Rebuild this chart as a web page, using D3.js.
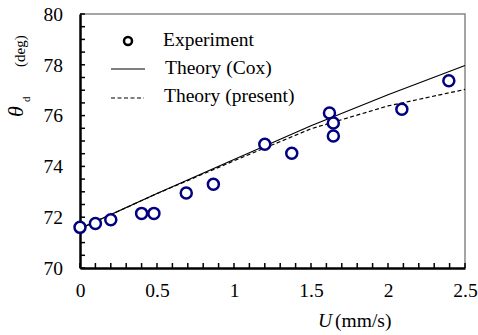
<!DOCTYPE html>
<html>
<head>
<meta charset="utf-8">
<script src="https://cdn.jsdelivr.net/npm/d3@7"></script>
<style>
  body { margin: 0; background: #fff; }
</style>
</head>
<body>
<script>
// Data
const expU = [0, 0.1, 0.2, 0.4, 0.48, 0.69, 0.866, 1.2, 1.375, 1.62, 1.645, 1.645, 2.09, 2.395];
const expTheta = [71.6, 71.75, 71.9, 72.15, 72.15, 72.95, 73.3, 74.87, 74.52, 76.1, 75.71, 75.2, 76.25, 77.37];
const modelU = [0, 0.5, 1, 1.5, 2, 2.5];
const coxTheta = [71.55, 72.93, 74.27, 75.6, 76.82, 77.97];
const presentTheta = [71.55, 72.93, 74.22, 75.48, 76.38, 77.03];
const xTicks = [0, 0.5, 1, 1.5, 2, 2.5];
const yTicks = [70, 72, 74, 76, 78, 80];
const legendLabels = ["Experiment", "Theory (Cox)", "Theory (present)"];

const serif = "'Liberation Serif', 'Times New Roman', serif";
const fs = "19.5px";

// Dimensions
const W = 478, H = 335;
const margin = { top: 14, right: 13, bottom: 67, left: 80 };
const width = W - margin.left - margin.right;
const height = H - margin.top - margin.bottom;

const svg = d3.select("body")
    .append("svg")
    .attr("width", W)
    .attr("height", H)
    .style("font-family", serif);

const g = svg.append("g")
    .attr("transform", `translate(${margin.left},${margin.top})`);

const x = d3.scaleLinear().domain([0, 2.5]).range([0, width]);
const y = d3.scaleLinear().domain([70, 80]).range([height, 0]);

// frame (top + right, grey)
g.append("path")
    .attr("d", `M0,0H${width}V${height}`)
    .attr("fill", "none")
    .attr("stroke", "#888")
    .attr("stroke-width", 1.5);

// minor ticks
const xMinor = d3.range(0, 2.5001, 0.1);
const yMinor = d3.range(70, 80.001, 0.5);

g.append("g").selectAll("line").data(xMinor).enter().append("line")
    .attr("x1", d => x(d)).attr("x2", d => x(d))
    .attr("y1", height).attr("y2", height - 5)
    .attr("stroke", "#000").attr("stroke-width", 1.5);

g.append("g").selectAll("line").data(yMinor).enter().append("line")
    .attr("x1", 0).attr("x2", 5)
    .attr("y1", d => y(d)).attr("y2", d => y(d))
    .attr("stroke", "#000").attr("stroke-width", 1.5);

// axes
const xAxis = g.append("g")
    .attr("transform", `translate(0,${height})`)
    .call(d3.axisBottom(x).tickValues(xTicks).tickSize(0).tickPadding(15)
        .tickFormat(d3.format("")));
xAxis.attr("font-family", null).attr("font-size", null);
xAxis.select(".domain").attr("stroke", "#000").attr("stroke-width", 2.5);
xAxis.selectAll("text").style("font-size", fs).style("font-family", serif);

const yAxis = g.append("g")
    .call(d3.axisLeft(y).tickValues(yTicks).tickSize(0).tickPadding(17));
yAxis.attr("font-family", null).attr("font-size", null);
yAxis.select(".domain").attr("stroke", "#000").attr("stroke-width", 2.5);
yAxis.selectAll("text").style("font-size", fs).style("font-family", serif);

// theory lines
const line = d3.line()
    .x(d => x(d[0]))
    .y(d => y(d[1]));

g.append("path")
    .datum(modelU.map((u, i) => [u, coxTheta[i]]))
    .attr("fill", "none")
    .attr("stroke", "#000")
    .attr("stroke-width", 1.2)
    .attr("d", line);

g.append("path")
    .datum(modelU.map((u, i) => [u, presentTheta[i]]))
    .attr("fill", "none")
    .attr("stroke", "#000")
    .attr("stroke-width", 1.2)
    .attr("stroke-dasharray", "4,2.5")
    .attr("d", line);

// experiment points
g.append("g").selectAll("circle")
    .data(expU.map((u, i) => [u, expTheta[i]]))
    .enter().append("circle")
    .attr("cx", d => x(d[0]))
    .attr("cy", d => y(d[1]))
    .attr("r", 5.5)
    .attr("fill", "#fff")
    .attr("stroke", "#000080")
    .attr("stroke-width", 2.5);

// legend
const legend = svg.append("g");
legend.append("circle")
    .attr("cx", 128).attr("cy", 41).attr("r", 4)
    .attr("fill", "#fff").attr("stroke", "#000").attr("stroke-width", 2.5);
legend.append("line")
    .attr("x1", 111).attr("x2", 145).attr("y1", 69).attr("y2", 69)
    .attr("stroke", "#000").attr("stroke-width", 1.2);
legend.append("line")
    .attr("x1", 111).attr("x2", 144).attr("y1", 98).attr("y2", 98)
    .attr("stroke", "#000").attr("stroke-width", 1.2)
    .attr("stroke-dasharray", "4,2.5");
legend.selectAll("text").data(legendLabels).enter().append("text")
    .attr("x", (d, i) => [163, 165, 164][i])
    .attr("y", (d, i) => [46, 74, 102][i])
    .style("font-size", fs)
    .style("font-family", serif)
    .text(d => d);

// axis titles
const yl = svg.append("text")
    .attr("transform", "translate(23,117) rotate(-90)")
    .style("font-size", "15px")
    .style("font-family", serif);
yl.append("tspan").attr("x", 0).attr("font-style", "italic").style("font-size", "22px").text("θ");
yl.append("tspan").attr("x", 15).attr("dy", 7).style("font-size", "11px").text("d");
yl.append("tspan").attr("x", 50).attr("dy", -5).text("(deg)");

const xl = svg.append("text")
    .attr("x", 318).attr("y", 327)
    .style("font-size", fs)
    .style("font-family", serif);
xl.append("tspan").attr("font-style", "italic").text("U");
xl.append("tspan").attr("dx", 3).text("(mm/s)");
</script>
</body>
</html>
